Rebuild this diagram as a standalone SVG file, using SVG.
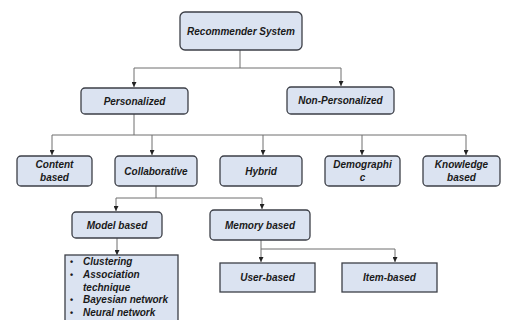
<svg xmlns="http://www.w3.org/2000/svg" width="505" height="320" viewBox="0 0 505 320">
<defs>
<marker id="ah" viewBox="0 0 6 6" refX="6" refY="3" markerWidth="5" markerHeight="5" orient="auto">
<path d="M0,0 L6,3 L0,6 z" fill="#222"/>
</marker>
<style>
.box{fill:#dbe3f1;stroke:#3c3f47;stroke-width:1.3}
.t{font-family:"Liberation Sans",Arial,sans-serif;font-weight:bold;font-style:italic;font-size:10px;fill:#1a1a1a;text-anchor:middle}
.l{font-family:"Liberation Sans",Arial,sans-serif;font-weight:bold;font-style:italic;font-size:10px;fill:#1a1a1a}
.b{font-style:normal;font-size:9px}
.c{fill:none;stroke:#6e6e6e;stroke-width:1}
.a{fill:none;stroke:#6e6e6e;stroke-width:1;marker-end:url(#ah)}
</style>
</defs>
<rect width="505" height="320" fill="#fff"/>
<g id="connectors">
<path class="c" d="M240,50 V68 M134,68 H341"/>
<path class="a" d="M134,68 V87"/>
<path class="a" d="M341,68 V86"/>
<path class="c" d="M134,114 V135 M52,135 H466"/>
<path class="a" d="M52,135 V155"/>
<path class="a" d="M152,135 V155"/>
<path class="a" d="M263,135 V155"/>
<path class="a" d="M362,135 V155"/>
<path class="a" d="M466,135 V155"/>
<path class="c" d="M156,186 V198 M116,198 H262"/>
<path class="a" d="M116,198 V211"/>
<path class="a" d="M262,198 V209"/>
<path class="a" d="M117,238 V255"/>
<path class="c" d="M261,240 V249 M261,249 H395"/>
<path class="a" d="M261,249 V262"/>
<path class="a" d="M395,249 V262"/>
</g>
<g id="recommender"><rect class="box" x="180" y="12" width="122" height="38" rx="5"/><text class="t" x="241" y="34.5">Recommender System</text></g>
<g id="personalized"><rect class="box" x="81" y="88" width="107" height="26" rx="4"/><text class="t" x="134.5" y="104.5">Personalized</text></g>
<g id="nonpersonalized"><rect class="box" x="287" y="87" width="107" height="27" rx="4"/><text class="t" x="340.5" y="103.5">Non-Personalized</text></g>
<g id="content"><rect class="box" x="17" y="156" width="75" height="30" rx="4"/><text class="t" x="54.5" y="168">Content</text><text class="t" x="54.5" y="181">based</text></g>
<g id="collaborative"><rect class="box" x="115" y="156" width="82" height="30" rx="4"/><text class="t" x="156" y="174.5">Collaborative</text></g>
<g id="hybrid"><rect class="box" x="220" y="156" width="82" height="30" rx="4"/><text class="t" x="261" y="174.5">Hybrid</text></g>
<g id="demographic"><rect class="box" x="325" y="156" width="75" height="30" rx="4"/><text class="t" x="362.5" y="168">Demographi</text><text class="t" x="362.5" y="181">c</text></g>
<g id="knowledge"><rect class="box" x="423" y="156" width="77" height="30" rx="4"/><text class="t" x="461.5" y="168">Knowledge</text><text class="t" x="461.5" y="181">based</text></g>
<g id="model"><rect class="box" x="72" y="212" width="90" height="26" rx="4"/><text class="t" x="117" y="228.5">Model based</text></g>
<g id="memory"><rect class="box" x="210" y="210" width="100" height="30" rx="4"/><text class="t" x="260" y="228.5">Memory based</text></g>
<g id="list"><rect class="box" x="65" y="255" width="113" height="70"/>
<text class="l"><tspan class="b" x="70" y="265">•</tspan><tspan x="83" y="265">Clustering</tspan><tspan class="b" x="70" y="278">•</tspan><tspan x="83" y="278">Association</tspan><tspan x="83" y="291">technique</tspan><tspan class="b" x="70" y="303">•</tspan><tspan x="83" y="303">Bayesian network</tspan><tspan class="b" x="70" y="316">•</tspan><tspan x="83" y="316">Neural network</tspan></text></g>
<g id="user"><rect class="box" x="220" y="263" width="95" height="29"/><text class="t" x="267.5" y="281">User-based</text></g>
<g id="item"><rect class="box" x="342" y="263" width="95" height="29"/><text class="t" x="389.5" y="281">Item-based</text></g>
</svg>
